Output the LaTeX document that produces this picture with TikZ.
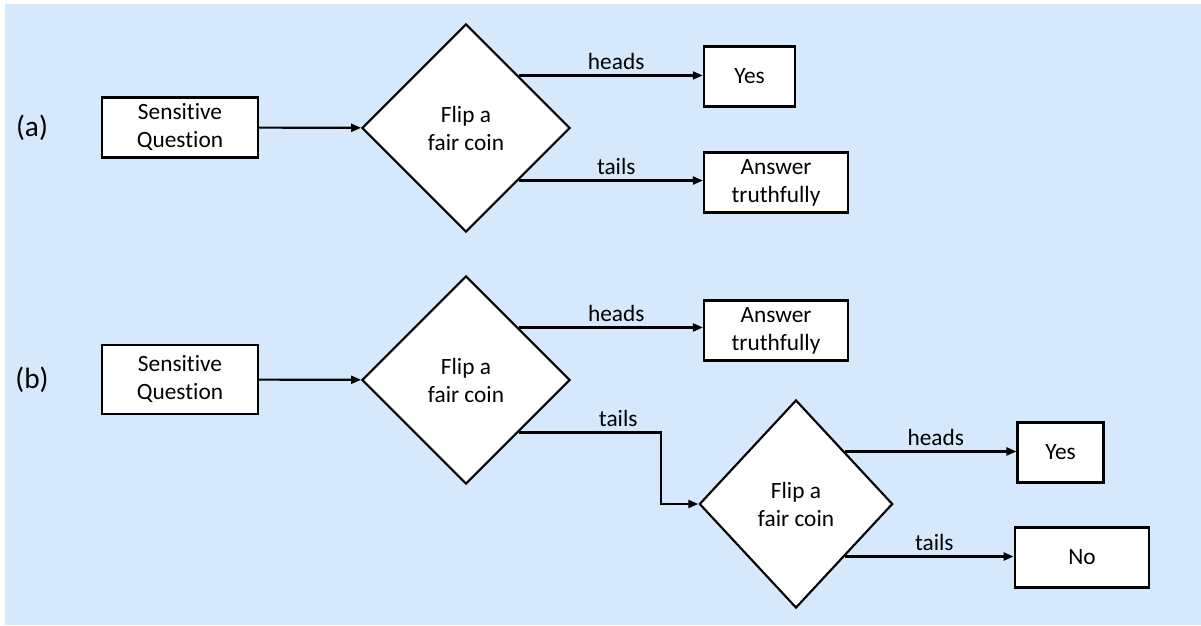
\documentclass[tikz,border=0pt]{standalone}
\usepackage{fontspec}
\setmainfont[Ligatures=NoCommon]{Carlito}
\usetikzlibrary{shapes.geometric,arrows.meta}
\definecolor{bgblue}{RGB}{214,232,252}

\begin{document}
\begin{tikzpicture}[
        x=0.75pt, y=-0.75pt,
        font=\fontsize{17.5}{21}\selectfont,
        box/.style={draw, line width=1.6pt, fill=white, align=center,
          inner sep=0pt, minimum height=45pt},
        coin/.style={draw, diamond, line width=1.6pt, fill=white, align=center,
          inner sep=0pt, minimum width=156pt, minimum height=156pt},
        arr/.style={line width=1.6pt, -{Triangle[length=7.5pt,width=6pt]}},
        lbl/.style={above, pos=0.53},
        part/.style={font=\fontsize{22}{26}\selectfont}
      ]
        % 画布与背景
        \useasboundingbox (0,0) rectangle (1201,625);
        \fill[bgblue] (5,4) rectangle (1201,625);
        % (a) 各结点
        \node[part] (la) at (32,128) {(a)};
        \node[box, minimum width=117pt] (qa) at (180,127.5) {Sensitive\\Question};
        \node[coin] (ca) at (466,128) {Flip a\\fair coin};
        \node[box, minimum width=68.5pt] (yesa) at (749.5,76.5) {Yes};
        \node[box, minimum width=108pt] (ansa) at (776,182.5) {Answer\\truthfully};
        % (a) 各连线
        \draw[arr] (qa) -- (ca);
        \draw[arr] (ca.north east) -- (ca.north east -| yesa.west) node[lbl] {heads};
        \draw[arr] (ca.south east) -- (ca.south east -| ansa.west) node[lbl] {tails};
        % (b) 各结点
        \node[part] (lb) at (32,380) {(b)};
        \node[box, minimum width=117pt, minimum height=52pt] (qb) at (180,379.5) {Sensitive\\Question};
        \node[coin] (cb) at (466,380) {Flip a\\fair coin};
        \node[box, minimum width=108pt] (ansb) at (776,330.5) {Answer\\truthfully};
        \node[coin, minimum width=145pt] (cc) at (796,504) {Flip a\\fair coin};
        \node[box, minimum width=64.5pt] (yesb) at (1060.5,452.5) {Yes};
        \node[box, minimum width=101pt] (nob) at (1082,557.5) {No};
        % 折线拐点
        \coordinate (kb) at (661,504);
        % (b) 各连线
        \draw[arr] (qb) -- (cb);
        \draw[arr] (cb.north east) -- (cb.north east -| ansb.west) node[lbl] {heads};
        \draw[arr] (cb.south east) -- (cb.south east -| kb) node[above, pos=0.7] {tails}
          -- (kb) -- (cc.west);
        \draw[arr] (cc.north east) -- (cc.north east -| yesb.west) node[lbl] {heads};
        \draw[arr] (cc.south east) -- (cc.south east -| nob.west) node[lbl] {tails};
      \end{tikzpicture}
\end{document}
